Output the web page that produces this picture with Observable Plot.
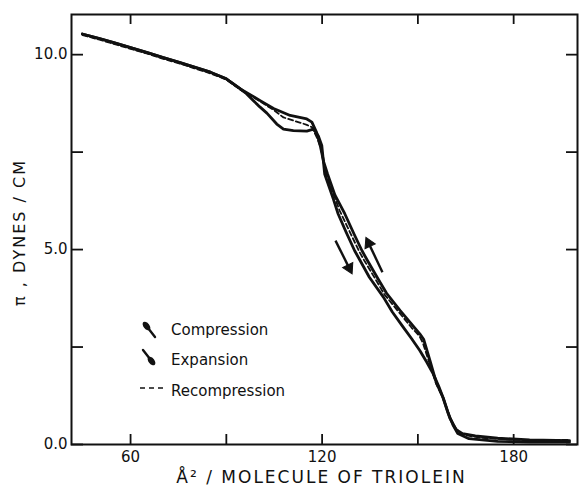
<!DOCTYPE html>
<html>
<head>
<meta charset="utf-8">
<script src="https://cdn.jsdelivr.net/npm/d3@7"></script>
<script src="https://cdn.jsdelivr.net/npm/@observablehq/plot@0.6"></script>
<style>
  html, body { margin: 0; padding: 0; background: #fff; }
  #wrap { position: relative; width: 581px; height: 489px; }
  #legend { position: absolute; left: 0; top: 0; pointer-events: none; }
</style>
</head>
<body>
<div id="wrap"></div>
<script>
// ---- Data ----
const compArea = [44.9, 50, 55, 60, 65, 70, 75, 80, 85, 90, 94.4, 98, 100.6, 104.8, 110, 115.2, 116.8, 118.3, 119.4, 120.5, 121.7, 124, 127.1, 130, 132.5, 134.2, 137.5, 140.2, 144.4, 147.5, 150.6, 151.8, 153.8, 155.8, 157.9, 160, 162, 164, 168, 175, 185, 197.5];
const compPressure = [10.53, 10.42, 10.3, 10.18, 10.06, 9.93, 9.81, 9.68, 9.55, 9.38, 9.12, 8.95, 8.82, 8.62, 8.44, 8.35, 8.27, 8.0, 7.67, 7.25, 6.94, 6.4, 5.92, 5.4, 4.97, 4.72, 4.25, 3.88, 3.44, 3.14, 2.84, 2.7, 2.15, 1.58, 1.2, 0.68, 0.38, 0.28, 0.22, 0.16, 0.12, 0.1];

const expArea = [44.9, 50, 55, 60, 65, 70, 75, 80, 85, 90, 94.4, 96, 98.5, 100.5, 102.7, 105.8, 107.9, 111, 115.2, 117.3, 118.8, 119.9, 120.8, 123.5, 125, 127.5, 130.2, 131.9, 134.8, 139.2, 142, 145.4, 148, 150.6, 152.8, 154.8, 156.5, 157.9, 159.5, 161, 162.5, 166, 175, 185, 197.5];
const expPressure = [10.53, 10.42, 10.3, 10.18, 10.06, 9.93, 9.81, 9.68, 9.55, 9.38, 9.12, 9.02, 8.82, 8.66, 8.5, 8.22, 8.09, 8.05, 8.04, 8.09, 7.92, 7.67, 6.94, 6.3, 5.92, 5.45, 4.97, 4.72, 4.29, 3.78, 3.4, 3.01, 2.72, 2.41, 2.11, 1.81, 1.5, 1.2, 0.8, 0.5, 0.28, 0.15, 0.08, 0.06, 0.06];

const recArea = [45, 50, 55, 60, 65, 70, 75, 80, 85, 90, 94.4, 98, 101, 104.8, 107.9, 111, 115.2, 116.8, 118.5, 119.6, 121.2, 125.5, 131.5, 133.2, 136.5, 139.5, 144, 148, 150.5, 151.5, 153.5, 155.7, 157.9, 160, 162, 164, 170, 180, 197.5];
const recPressure = [10.5, 10.39, 10.27, 10.15, 10.03, 9.9, 9.78, 9.65, 9.52, 9.36, 9.1, 8.93, 8.78, 8.58, 8.39, 8.31, 8.2, 8.14, 7.85, 7.6, 6.94, 6.0, 4.97, 4.72, 4.27, 3.85, 3.4, 3.0, 2.78, 2.62, 2.12, 1.56, 1.2, 0.7, 0.4, 0.25, 0.17, 0.12, 0.12];

// direction arrows drawn beside the curves (tail -> head)
const arrowName = ["Expansion", "Compression"];
const arrowX1 = [124.2, 138.9];
const arrowY1 = [5.23, 4.42];
const arrowX2 = [128.9, 134.2];
const arrowY2 = [4.46, 5.23];

// axes
const xTicks = [60, 90, 120, 150, 180];
const xTickLabels = [60, 120, 180];
const yTicks = [0, 2.5, 5, 7.5, 10];
const yTickLabels = [0, 5, 10];
const xTitle = "Å² / MOLECULE OF TRIOLEIN";
const yTitle = "π , DYNES / CM";
const legendLabels = ["Compression", "Expansion", "Recompression"];

// ---- Build ----
const toRows = (xs, ys) => xs.map((x, i) => ({x, y: ys[i]}));
const comp = toRows(compArea, compPressure);
const exp = toRows(expArea, expPressure);
const rec = toRows(recArea, recPressure);

const W = 581, H = 489;
const mL = 71, mR = 4, mT = 14, mB = 45;
const fw = W - mL - mR, fh = H - mT - mB;
const xDomain = [41.5, 200], yDomain = [0, 11.03];
const kx = fw / (xDomain[1] - xDomain[0]);
const ky = fh / (yDomain[1] - yDomain[0]);
const ink = "#111";
const font = "DejaVu Sans, sans-serif";

const arrows = arrowName.map((n, i) => {
  const x1 = arrowX1[i], y1 = arrowY1[i], x2 = arrowX2[i], y2 = arrowY2[i];
  const px = (x2 - x1) * kx, py = -(y2 - y1) * ky;
  const L = Math.hypot(px, py);
  const shorten = 5 / L; // stop the shaft under the filled head
  return {n, x1, y1, x2, y2,
    sx: x2 - (x2 - x1) * shorten, sy: y2 - (y2 - y1) * shorten,
    hx: x2 - (x2 - x1) * (3 / L), hy: y2 - (y2 - y1) * (3 / L),
    angle: Math.atan2(px, -py) * 180 / Math.PI};
});

const chart = Plot.plot({
  width: W,
  height: H,
  marginLeft: mL,
  marginRight: mR,
  marginTop: mT,
  marginBottom: mB,
  style: {fontFamily: font, color: ink, background: "#fff", overflow: "visible"},
  x: {domain: xDomain},
  y: {domain: yDomain},
  marks: [
    Plot.frame({stroke: ink, strokeWidth: 2}),
    // inward ticks on all four sides
    Plot.ruleX(xTicks, {stroke: ink, strokeWidth: 1.8, insetTop: fh - 10}),
    Plot.ruleX(xTicks, {stroke: ink, strokeWidth: 1.8, insetBottom: fh - 10}),
    Plot.ruleY(yTicks, {stroke: ink, strokeWidth: 1.8, insetRight: fw - 12}),
    Plot.ruleY(yTicks, {stroke: ink, strokeWidth: 1.8, insetLeft: fw - 11}),
    Plot.axisX({ticks: xTickLabels, tickSize: 0, tickPadding: 7, tickFormat: d => String(d), fontSize: 15, label: null}),
    Plot.axisY({ticks: yTickLabels, tickSize: 0, tickPadding: 4, tickFormat: d => d.toFixed(1), fontSize: 15, label: null}),
    Plot.text([xTitle], {frameAnchor: "bottom", textAnchor: "middle", dx: -3, dy: 33, lineAnchor: "middle", fontSize: 17, fill: ink}),
    Plot.text([yTitle], {frameAnchor: "left", textAnchor: "middle", dx: -52, dy: 3, rotate: -90, lineAnchor: "middle", fontSize: 16, fill: ink}),
    // curves
    Plot.line(exp, {x: "x", y: "y", stroke: ink, strokeWidth: 2.8, strokeLinejoin: "round"}),
    Plot.line(comp, {x: "x", y: "y", stroke: ink, strokeWidth: 2.8, strokeLinejoin: "round"}),
    Plot.line(rec, {x: "x", y: "y", stroke: ink, strokeWidth: 1.8, strokeDasharray: "5,3"}),
    // direction arrows with filled heads
    Plot.link(arrows, {x1: "x1", y1: "y1", x2: "sx", y2: "sy", stroke: ink, strokeWidth: 2.4}),
    Plot.dot(arrows, {x: "hx", y: "hy", symbol: "triangle", r: 4.2, rotate: "angle", fill: ink, stroke: ink, strokeWidth: 1})
  ]
});

// letter spacing on the axis titles
d3.select(chart).selectAll("text").filter(function() {
  const t = this.textContent; return t === xTitle || t === yTitle;
}).attr("letter-spacing", 2);

document.getElementById("wrap").appendChild(chart);

// ---- legend (glyphs + text) ----
const lg = d3.select("#wrap").append("svg")
  .attr("id", "legend").attr("width", W).attr("height", H)
  .attr("font-family", font).attr("fill", ink);
// compression glyph (points up-left)
lg.append("line").attr("x1", 155).attr("y1", 337).attr("x2", 148).attr("y2", 328)
  .attr("stroke", ink).attr("stroke-width", 2.4).attr("stroke-linecap", "round");
lg.append("ellipse").attr("cx", 146.5).attr("cy", 326).attr("rx", 3).attr("ry", 5)
  .attr("transform", "rotate(-38 146.5 326)").attr("fill", ink);
// expansion glyph (points down-right)
lg.append("line").attr("x1", 143).attr("y1", 350).attr("x2", 150).attr("y2", 359)
  .attr("stroke", ink).attr("stroke-width", 2.4).attr("stroke-linecap", "round");
lg.append("ellipse").attr("cx", 151.5).attr("cy", 361).attr("rx", 3).attr("ry", 5)
  .attr("transform", "rotate(-38 151.5 361)").attr("fill", ink);
// recompression glyph (dashed)
lg.append("line").attr("x1", 140).attr("y1", 388).attr("x2", 166).attr("y2", 388)
  .attr("stroke", ink).attr("stroke-width", 1.6).attr("stroke-dasharray", "5,4");
const ly = [335, 365, 396];
legendLabels.forEach((t, i) => {
  lg.append("text").attr("x", 171).attr("y", ly[i]).attr("font-size", 15).text(t);
});
</script>
</body>
</html>
